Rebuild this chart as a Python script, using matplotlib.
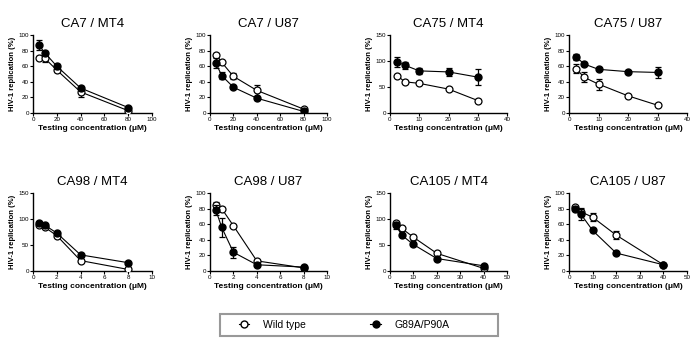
import matplotlib
matplotlib.use("Agg")
import matplotlib.pyplot as plt
from matplotlib.lines import Line2D
from matplotlib.patches import Rectangle

plt.rcParams["font.family"] = ["Liberation Sans", "DejaVu Sans"]

# données (concentration en µM, réplication en %)
titles = ["CA7 / MT4", "CA7 / U87", "CA75 / MT4", "CA75 / U87",
          "CA98 / MT4", "CA98 / U87", "CA105 / MT4", "CA105 / U87"]

conc_ca7 = [5, 10, 20, 40, 80]
conc_ca75 = [2.5, 5, 10, 20, 30]
conc_ca98 = [0.5, 1, 2, 4, 8]
conc_ca105 = [2.5, 5, 10, 20, 40]
concs = [conc_ca7, conc_ca7, conc_ca75, conc_ca75,
         conc_ca98, conc_ca98, conc_ca105, conc_ca105]

wt_vals = [
    [71, 70, 55, 27, 3],
    [75, 65, 47, 29, 5],
    [72, 60, 57, 46, 24],
    [57, 46, 37, 22, 10],
    [89, 84, 68, 20, 3],
    [84, 80, 58, 13, 4],
    [92, 82, 65, 34, 5],
    [82, 76, 69, 46, 8],
]
wt_err = [
    [2, 5, 2, 6, 1],
    [2, 1, 4, 7, 1],
    [2, 2, 2, 2, 2],
    [6, 6, 7, 1, 1],
    [3, 2, 3, 2, 1],
    [5, 2, 1, 1, 1],
    [4, 2, 5, 2, 1],
    [1, 5, 5, 5, 1],
]
mut_vals = [
    [87, 77, 60, 32, 7],
    [64, 48, 33, 19, 2],
    [98, 92, 81, 79, 69],
    [72, 63, 56, 53, 52],
    [93, 88, 73, 31, 16],
    [78, 56, 24, 8, 5],
    [88, 69, 51, 24, 10],
    [80, 73, 52, 23, 8],
]
mut_err = [
    [6, 2, 3, 3, 1],
    [6, 5, 1, 2, 1],
    [10, 7, 6, 7, 15],
    [4, 2, 1, 1, 7],
    [2, 2, 2, 2, 2],
    [6, 12, 7, 1, 1],
    [7, 2, 3, 2, 1],
    [2, 7, 2, 1, 1],
]
xmaxs = [100, 100, 40, 40, 10, 10, 50, 50]
xsteps = [20, 20, 10, 10, 2, 2, 10, 10]
ymaxs = [100, 100, 150, 100, 150, 100, 150, 100]

# position des axes en pixels (gauche, droite, haut, bas) sur 700x350
col_px = [(33, 152), (210, 327), (390, 507), (569, 687)]
row_px = [(35, 113), (193, 271)]

W, H = 700, 350
fig = plt.figure(figsize=(7, 3.5), dpi=100)

for i in range(8):
    r, c = divmod(i, 4)
    x0, x1 = col_px[c]
    y0, y1 = row_px[r]
    ax = fig.add_axes([x0 / W, 1 - y1 / H, (x1 - x0) / W, (y1 - y0) / H])
    x = concs[i]
    ax.errorbar(x, wt_vals[i], yerr=wt_err[i], color="black", lw=0.8,
                marker="o", ms=5, mfc="white", mec="black", mew=0.9,
                capsize=2.5, elinewidth=0.9, capthick=0.9, zorder=3)
    ax.errorbar(x, mut_vals[i], yerr=mut_err[i], color="black", lw=0.8,
                marker="o", ms=5, mfc="black", mec="black",
                capsize=2.5, elinewidth=0.9, capthick=0.9, zorder=4)
    ax.set_xlim(0, xmaxs[i])
    ax.set_ylim(0, ymaxs[i])
    ax.set_xticks(range(0, xmaxs[i] + 1, xsteps[i]))
    step_y = 50 if ymaxs[i] == 150 else 20
    ax.set_yticks(range(0, ymaxs[i] + 1, step_y))
    for s in ["top", "right"]:
        ax.spines[s].set_visible(False)
    for s in ["left", "bottom"]:
        ax.spines[s].set_linewidth(1.0)
    ax.tick_params(labelsize=4.5, length=2, width=0.8, pad=1)
    ax.set_title(titles[i], fontsize=9.5, pad=6)
    ax.set_xlabel("Testing concentration (μM)", fontsize=6, fontweight="bold", labelpad=2)
    ax.set_ylabel("HIV-1 replication (%)", fontsize=5.5, fontweight="bold", labelpad=2)

# légende : cadre gris dessiné à part, entrées sans cadre
fig.patches.append(Rectangle((220 / W, 1 - 336 / H), 278 / W, 22 / H,
                             transform=fig.transFigure, fill=False,
                             edgecolor="#999999", lw=1.5))
handles = [
    Line2D([], [], color="black", lw=0.8, marker="o", ms=5, mfc="white", mec="black"),
    Line2D([], [], color="black", lw=0.8, marker="o", ms=5, mfc="black", mec="black"),
]
fig.legend(handles, ["Wild type", "G89A/P90A"], ncol=2, loc="center left",
           bbox_to_anchor=(239 / W, 1 - 325 / H), fontsize=7.5,
           frameon=False, handlelength=1.0, handletextpad=1.3,
           columnspacing=6.2, borderpad=0, borderaxespad=0)

fig.savefig("out.png", dpi=100)
